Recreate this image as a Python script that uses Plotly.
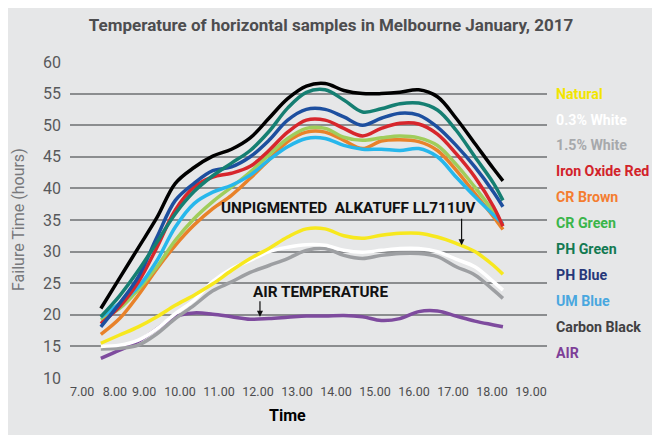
import plotly.graph_objects as go

# sample times (hours)
times = [7.97, 8.45, 8.93, 9.41, 9.88, 10.36, 10.84, 11.32, 11.80, 12.28, 12.76, 13.24,
         13.72, 14.20, 14.68, 15.16, 15.64, 16.12, 16.60, 17.08, 17.56, 18.04, 18.28]

natural = [15.5, 16.8, 18.1, 19.7, 21.5, 23.1, 24.9, 27.0, 28.9, 30.5, 32.3, 33.6,
           33.6, 32.5, 32.1, 32.6, 32.9, 32.9, 32.3, 31.3, 30.0, 27.8, 26.4]
white_03 = [15.0, 15.2, 16.0, 17.8, 20.2, 22.3, 25.3, 27.3, 28.6, 30.0, 30.7, 31.1,
            31.0, 30.2, 29.9, 30.2, 30.5, 30.5, 30.0, 28.8, 27.6, 25.2, 23.9]
white_15 = [14.6, 14.7, 15.2, 17.0, 19.4, 21.5, 23.8, 25.2, 26.7, 27.8, 28.9, 30.2,
            30.5, 29.4, 28.9, 29.4, 29.7, 29.7, 29.2, 27.6, 26.3, 23.9, 22.6]
iron_red = [18.6, 21.3, 25.2, 30.7, 36.6, 40.2, 41.8, 42.4, 43.5, 46.0, 48.9, 50.8,
            50.8, 49.5, 48.3, 49.5, 50.3, 50.2, 48.6, 45.5, 41.8, 37.1, 34.0]
cr_brown = [16.9, 19.4, 23.1, 27.3, 31.0, 34.2, 36.8, 38.9, 41.6, 44.5, 47.4, 48.9,
            48.9, 47.6, 46.3, 47.5, 47.7, 47.4, 46.0, 42.9, 39.2, 35.5, 33.5]
cr_green = [19.2, 21.0, 24.0, 27.6, 31.8, 35.2, 37.9, 40.2, 42.6, 45.3, 47.9, 49.5,
            49.5, 48.1, 47.6, 48.0, 48.3, 48.0, 46.8, 43.8, 40.2, 36.3, 34.2]
ph_green = [19.7, 23.0, 27.0, 31.5, 36.0, 39.5, 42.0, 44.0, 46.0, 49.0, 52.7, 55.2,
            55.6, 54.0, 52.1, 52.6, 53.4, 53.5, 52.4, 49.2, 45.0, 40.8, 38.1]
ph_blue = [18.1, 21.8, 26.0, 32.3, 38.1, 40.8, 42.8, 43.4, 45.0, 47.6, 50.8, 52.5,
           52.5, 51.3, 50.0, 51.1, 51.9, 51.6, 49.7, 46.8, 43.4, 39.4, 37.1]
um_blue = [19.6, 21.8, 24.4, 28.6, 33.9, 37.6, 39.4, 40.5, 42.1, 44.5, 46.6, 47.9,
           47.9, 46.8, 46.2, 46.2, 46.0, 46.3, 45.0, 41.8, 38.7, 35.8, 34.4]
carbon_black = [21.0, 25.8, 30.6, 35.4, 40.8, 43.3, 45.1, 46.2, 48.0, 51.1, 54.2, 56.2,
                56.6, 55.5, 55.0, 55.0, 55.2, 55.6, 54.5, 51.1, 47.1, 43.1, 41.2]
air = [13.1, 14.4, 15.8, 17.8, 19.7, 20.3, 20.1, 19.7, 19.3, 19.4, 19.6, 19.8,
       19.8, 19.9, 19.7, 19.1, 19.4, 20.5, 20.6, 19.8, 19.0, 18.4, 18.1]

# legend order (top to bottom)
names = ["Natural", "0.3% White", "1.5% White", "Iron Oxide Red", "CR Brown", "CR Green",
         "PH Green", "PH Blue", "UM Blue", "Carbon Black", "AIR"]
series = [natural, white_03, white_15, iron_red, cr_brown, cr_green,
          ph_green, ph_blue, um_blue, carbon_black, air]
line_colors = ["#f7e81e", "#ffffff", "#9d9fa2", "#d7262c", "#e8822a", "#a0cd5b",
               "#157f72", "#1d4f9f", "#27b7ec", "#000000", "#7e4b9e"]
label_colors = ["#f2e500", "#ffffff", "#a7a9ac", "#d2232a", "#f47d30", "#3ab54a",
                "#137a52", "#27387a", "#4aa7df", "#414042", "#7e3f98"]

# x tick labels (positions as printed on the chart)
tick_pos = [7.49, 8.33, 9.08, 10, 11, 12, 13, 14, 15, 16, 17, 18, 19]
tick_text = ["7.00", "8.00", "9.00", "10.00", "11.00", "12.00", "13.00", "14.00",
             "15.00", "16.00", "17.00", "18.00", "19.00"]

BG = "#e6e7e8"
FONT = "Roboto, Arial, sans-serif"

fig = go.Figure()

draw_order = [10, 2, 1, 0, 4, 5, 8, 3, 7, 6, 9]
for i in draw_order:
    fig.add_trace(go.Scatter(
        x=times, y=series[i], mode="lines", name=names[i],
        line=dict(color=line_colors[i], width=3.5, shape="spline", smoothing=1.0),
        showlegend=False,
    ))

# coloured legend text on the right
for i, (name, col) in enumerate(zip(names, label_colors)):
    fig.add_annotation(
        text=f"<b>{name}</b>", xref="paper", yref="y", x=1.0147, y=55 - 4.1 * i,
        xanchor="left", yanchor="middle", showarrow=False,
        font=dict(family=FONT, size=14.2, color=col),
    )

# in-plot labels
fig.add_annotation(text="<b>UNPIGMENTED  ALKATUFF LL711UV</b>", x=14.33, y=36.9,
                   showarrow=False, font=dict(family=FONT, size=15.3, color="#111111"))
fig.add_annotation(text="", x=17.22, y=31.0, ax=0, ay=-28, showarrow=True,
                   arrowhead=2, arrowsize=1, arrowwidth=1.2, arrowcolor="#111111")
fig.add_annotation(text="<b>AIR TEMPERATURE</b>", x=13.61, y=23.6,
                   showarrow=False, font=dict(family=FONT, size=15.3, color="#111111"))
fig.add_annotation(text="", x=12.05, y=19.7, ax=0, ay=-17, showarrow=True,
                   arrowhead=2, arrowsize=1, arrowwidth=1.2, arrowcolor="#111111")

# axis titles
fig.add_annotation(text="<b>Time</b>", xref="paper", yref="paper", x=0.456, y=-0.118,
                   xanchor="center", yanchor="middle", showarrow=False,
                   font=dict(family=FONT, size=16, color="#000000"))
fig.add_annotation(text="Failure Time (hours)", xref="paper", yref="paper", x=-0.109, y=0.5,
                   textangle=-90, xanchor="center", yanchor="middle", showarrow=False,
                   font=dict(family=FONT, size=16, color="#77787b"))

# page body has an 8px margin, so the figure is drawn 8px smaller
fig.update_layout(
    width=652, height=427,
    paper_bgcolor=BG, plot_bgcolor=BG,
    margin=dict(l=62, r=113, t=54, b=57),
    title=dict(text="<b>Temperature of horizontal samples in Melbourne January, 2017</b>",
               x=0.4954, xanchor="center", y=0.960, yanchor="middle",
               font=dict(family=FONT, size=17, color="#4d4d4f")),
    font=dict(family=FONT),
)
fig.update_xaxes(
    range=[7.179, 19.41], tickvals=tick_pos, ticktext=tick_text,
    showgrid=False, zeroline=False, showline=False, ticklabelstandoff=4,
    tickfont=dict(size=12.5, color="#4d4d4f"),
)
fig.update_yaxes(
    range=[10, 60], dtick=5, showgrid=True, gridcolor="#8b8d8f", gridwidth=1.5,
    zeroline=False, showline=False, ticklabelstandoff=8,
    tickfont=dict(size=16, color="#58595b"),
)

fig.write_html("out.html")
